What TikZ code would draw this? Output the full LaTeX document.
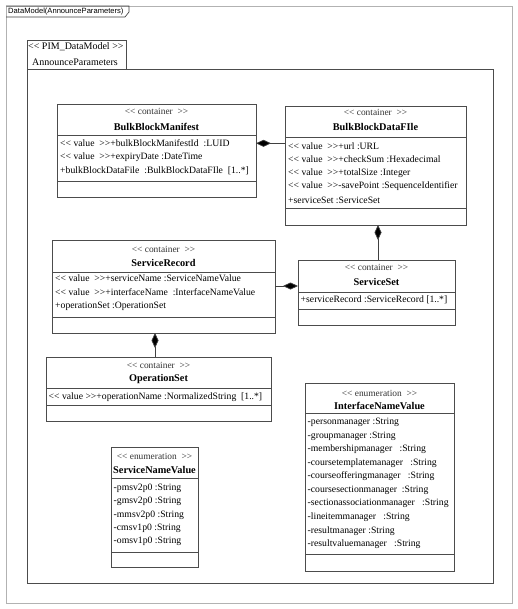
\documentclass[tikz,border=0pt]{standalone}
\usepackage{fontspec}
\newfontfamily\umlfont{Liberation Serif}
\newfontfamily\umlsans{Liberation Sans}
\usetikzlibrary{arrows.meta}
\tikzset{
  x=1pt, y=-1pt,
  clsbox/.style={draw=black!70, line width=0.8pt, inner sep=0pt, outer sep=0pt},
  clsline/.style={draw=black!70, line width=0.8pt},
  stereo/.style={font=\umlfont\fontsize{9.4}{10}\selectfont, text=black!80, inner sep=0pt},
  clsname/.style={font=\umlfont\bfseries\fontsize{10.3}{11}\selectfont, inner sep=0pt},
  attr/.style={font=\umlfont\fontsize{9.7}{10}\selectfont, anchor=west, inner sep=0pt},
  comp/.style={draw=black!75, line width=0.7pt, {Diamond[length=15pt,width=7pt,fill=black]}-},
}
\newcommand\umlbox[7]{%
  \node[clsbox, anchor=north west, minimum width={#4pt-#2pt}, minimum height={#7pt-#3pt}] (#1) at (#2,#3) {};
  \draw[clsline] (#2,#5) -- (#4,#5);
  \draw[clsline] (#2,#6) -- (#4,#6);
}
\begin{document}
\begin{tikzpicture}
\useasboundingbox (0,0) rectangle (518,609);
\fill[white] (0,0) rectangle (518,609);
% outer frame
\node[draw=black!30, line width=1pt, anchor=north west, minimum width=506pt, minimum height=597pt, inner sep=0pt] (frame) at (6,6) {};
\draw[draw=black!75, line width=0.7pt] (6,6) -- (129,6) -- (129,12) -- (125,17) -- (6,17);
\node[font=\umlsans\fontsize{7.6}{8}\selectfont, anchor=west, inner sep=0pt] (frametitle) at (8,11.5) {DataModel(AnnounceParameters)};
% package
\node[draw=black!70, line width=0.8pt, anchor=north west, minimum width=99pt, minimum height=29pt, inner sep=0pt] (pkgtab) at (27,40) {};
\node[draw=black!70, line width=0.8pt, anchor=north west, minimum width=466pt, minimum height=514pt, inner sep=0pt] (pkg) at (27,69) {};
\node[font=\umlfont\fontsize{10}{11}\selectfont, anchor=west, inner sep=0pt] (pkgst) at (28,47) {<{}< PIM\_DataModel >{}>};
\node[font=\umlfont\fontsize{10}{11}\selectfont, anchor=west, inner sep=0pt] (pkgname) at (32,62) {AnnounceParameters};

% BulkBlockManifest
\umlbox{bbm}{57}{104}{256}{135}{181}{197}
\node[stereo] (bbmst) at (156.5,111) {<{}< container\ \ >{}>};
\node[clsname] (bbmn) at (156.5,126.5) {BulkBlockManifest};
\node[attr] (bbm1) at (60,143.3) {<{}< value\ \ >{}>+bulkBlockManifestId\ \ :LUID};
\node[attr] (bbm2) at (60,157.3) {<{}< value\ \ >{}>+expiryDate :DateTime};
\node[attr] (bbm3) at (60,171) {+bulkBlockDataFile\ \ :BulkBlockDataFIle\ \ [1..*]};

% BulkBlockDataFile
\umlbox{bbdf}{285}{106}{466}{137}{208}{225}
\node[stereo] (bbdfst) at (375.5,112) {<{}< container\ \ >{}>};
\node[clsname] (bbdfn) at (375.5,126.5) {BulkBlockDataFIle};
\node[attr] (bbdf1) at (288,146) {<{}< value\ \ >{}>+url :URL};
\node[attr] (bbdf2) at (288,159.5) {<{}< value\ \ >{}>+checkSum :Hexadecimal};
\node[attr] (bbdf3) at (288,173) {<{}< value\ \ >{}>+totalSize :Integer};
\node[attr] (bbdf4) at (288,186.5) {<{}< value\ \ >{}>-savePoint :SequenceIdentifier};
\node[attr] (bbdf5) at (288,200) {+serviceSet :ServiceSet};

% ServiceSet
\umlbox{ss}{298}{260}{455}{292}{309}{325}
\node[stereo] (ssst) at (376.5,267) {<{}< container\ \ >{}>};
\node[clsname] (ssn) at (376.5,282) {ServiceSet};
\node[attr] (ss1) at (300.5,300) {+serviceRecord :ServiceRecord [1..*]};

% ServiceRecord
\umlbox{sr}{52}{240}{275}{272}{317}{333}
\node[stereo] (srst) at (163.5,249) {<{}< container\ \ >{}>};
\node[clsname] (srn) at (163.5,262.5) {ServiceRecord};
\node[attr] (sr1) at (55,278.5) {<{}< value\ \ >{}>+serviceName :ServiceNameValue};
\node[attr] (sr2) at (55,292.5) {<{}< value\ \ >{}>+interfaceName\ \ :InterfaceNameValue};
\node[attr] (sr3) at (55,306.5) {+operationSet :OperationSet};

% OperationSet
\umlbox{os}{46}{357}{271}{388}{405}{421}
\node[stereo] (osst) at (158.5,365) {<{}< container\ \ >{}>};
\node[clsname] (osn) at (158.5,379) {OperationSet};
\node[attr] (os1) at (48.5,397) {<{}< value >{}>+operationName :NormalizedString\ \ [1..*]};

% ServiceNameValue
\umlbox{snv}{111}{447}{198}{478}{552}{567}
\node[stereo] (snvst) at (154.5,456) {<{}< enumeration\ \ >{}>};
\node[clsname] (snvn) at (154.5,470) {ServiceNameValue};
\node[attr] (snv1) at (113.5,488.3) {-pmsv2p0 :String};
\node[attr] (snv2) at (113.5,501.7) {-gmsv2p0 :String};
\node[attr] (snv3) at (113.5,515) {-mmsv2p0 :String};
\node[attr] (snv4) at (113.5,528.3) {-cmsv1p0 :String};
\node[attr] (snv5) at (113.5,541.3) {-omsv1p0 :String};

% InterfaceNameValue
\umlbox{inv}{305}{383}{454}{413}{554}{571}
\node[stereo] (invst) at (379.5,393) {<{}< enumeration\ \ >{}>};
\node[clsname] (invn) at (379.5,405.5) {InterfaceNameValue};
\node[attr] (inv1) at (307.5,422.7) {-personmanager :String};
\node[attr] (inv2) at (307.5,436) {-groupmanager :String};
\node[attr] (inv3) at (307.5,449.5) {-membershipmanager\ \ \ :String};
\node[attr] (inv4) at (307.5,463) {-coursetemplatemanager\ \ \ :String};
\node[attr] (inv5) at (307.5,476.5) {-courseofferingmanager\ \ \ :String};
\node[attr] (inv6) at (307.5,490) {-coursesectionmanager\ \ :String};
\node[attr] (inv7) at (307.5,503.7) {-sectionassociationmanager\ \ \ :String};
\node[attr] (inv8) at (307.5,517.3) {-lineitemmanager\ \ \ :String};
\node[attr] (inv9) at (307.5,531) {-resultmanager :String};
\node[attr] (inv10) at (307.5,544.3) {-resultvaluemanager\ \ \ :String};

% connectors
\draw[comp] (bbm.east |- bbm1) -- (bbdf.west |- bbm1);
\draw[comp] (bbdf.south -| 378,0) -- (ss.north -| 378,0);
\draw[comp] (ss.west |- 0,286) -- (sr.east |- 0,286);
\draw[comp] (sr.south -| 155,0) -- (os.north -| 155,0);
\end{tikzpicture}
\end{document}
